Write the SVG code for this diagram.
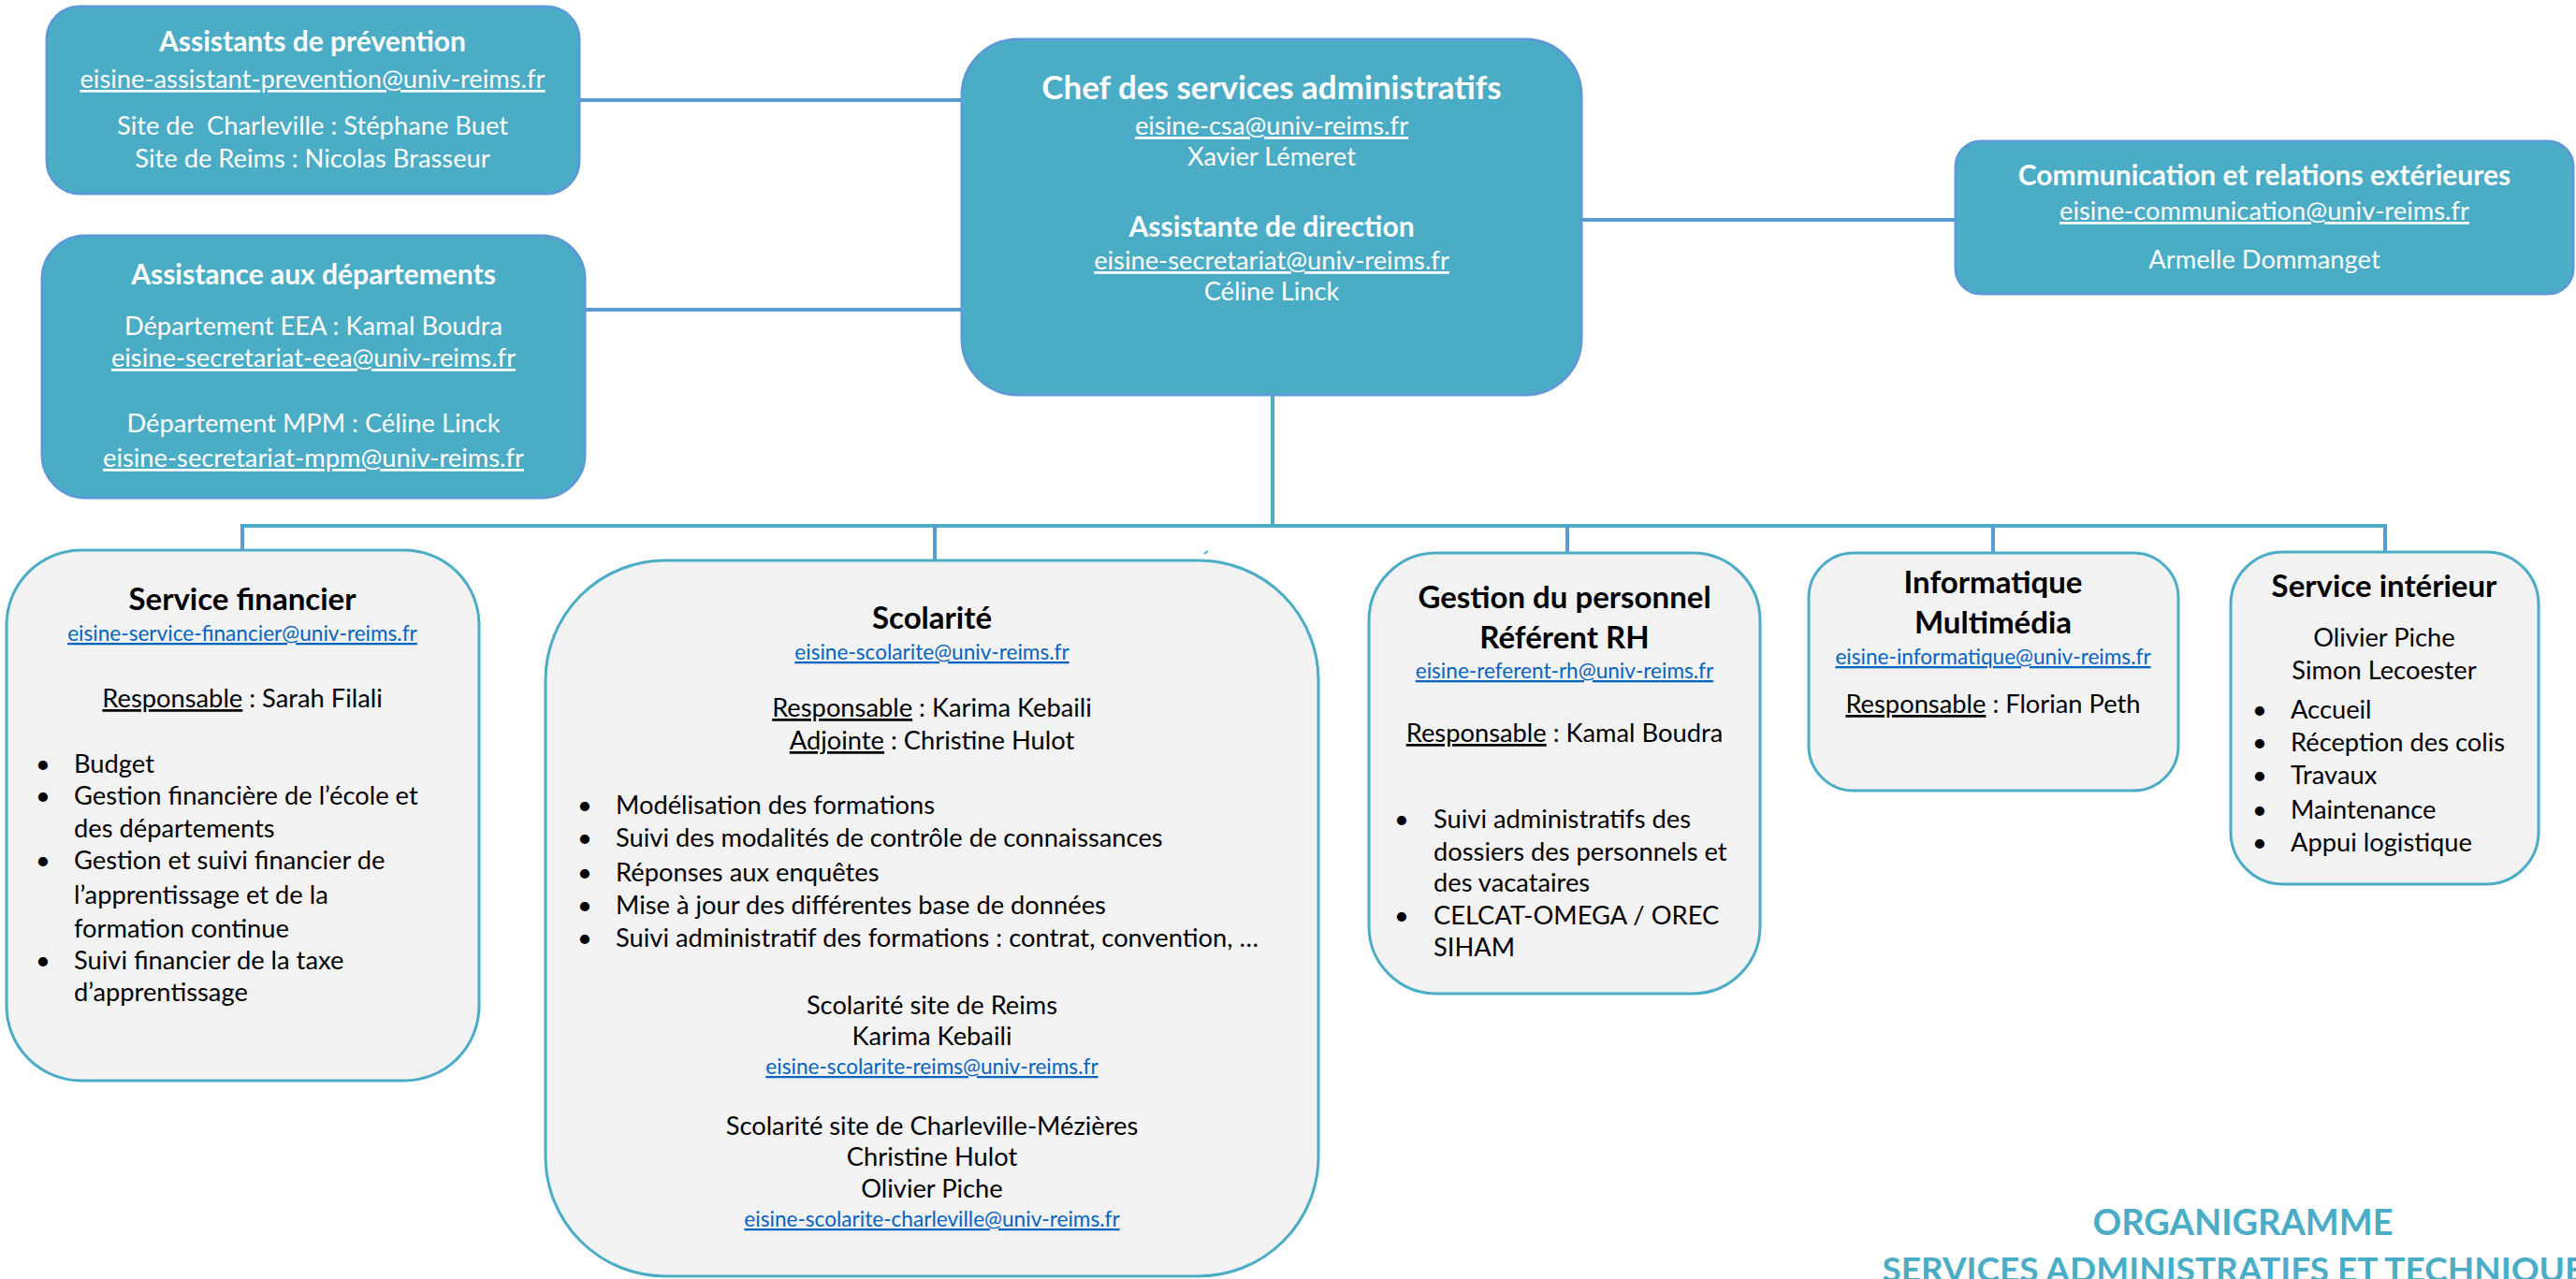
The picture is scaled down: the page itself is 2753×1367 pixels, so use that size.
<svg xmlns="http://www.w3.org/2000/svg" width="2753" height="1367" viewBox="0 0 2753 1367">
<style>
text{font-family:Lato,"Open Sans","Liberation Sans",sans-serif;}
.top rect{fill:#4BACC6;stroke:#5B9BD5;stroke-width:3;}
.top text{fill:#FFFFFF;font-size:27.3px;text-anchor:middle;}
.top .t{font-weight:bold;font-size:30px;}
.top .big{font-weight:bold;font-size:35px;}
.bot rect{fill:#F2F2F2;stroke:#4BACC6;stroke-width:3;}
.bot text{fill:#000000;font-size:27.3px;}
.bot .c{text-anchor:middle;}
.bot .t{font-weight:bold;font-size:33px;text-anchor:middle;}
.bot .m{fill:#0563C1;font-size:22.6px;text-anchor:middle;text-decoration:underline;}
.u{text-decoration:underline;}
.blue{stroke:#5B9BD5;stroke-width:4;fill:none;}
.teal{stroke:#4BACC6;stroke-width:4;fill:none;}
.title{fill:#4BACC6;font-weight:bold;font-size:38px;text-anchor:middle;}
</style>
<rect width="2753" height="1367" fill="#FFFFFF"/>
<g id="connectors">
<line class="blue" x1="619" y1="107" x2="1028" y2="107"/>
<line class="blue" x1="625" y1="331" x2="1028" y2="331"/>
<line class="blue" x1="1690" y1="235" x2="2090" y2="235"/>
<line class="teal" x1="1360" y1="422" x2="1360" y2="562"/>
<line class="teal" x1="257" y1="562" x2="2551" y2="562"/>
<line class="blue" x1="259" y1="562" x2="259" y2="588"/>
<line class="blue" x1="999" y1="562" x2="999" y2="599"/>
<line class="blue" x1="1675" y1="562" x2="1675" y2="591"/>
<line class="blue" x1="2130" y1="562" x2="2130" y2="591"/>
<line class="blue" x1="2549" y1="562" x2="2549" y2="590"/>
<line stroke="#4BACC6" stroke-width="2" x1="1287" y1="592" x2="1291" y2="589"/>
</g>
<g id="assistants-prevention" class="top">
<rect x="50" y="7" width="569" height="200" rx="35"/>
<text class="t" x="334" y="55">Assistants de prévention</text>
<text class="u" x="334" y="94">eisine-assistant-prevention@univ-reims.fr</text>
<text x="334" y="144" xml:space="preserve">Site de  Charleville : Stéphane Buet</text>
<text x="334" y="179">Site de Reims : Nicolas Brasseur</text>
</g>
<g id="assistance-departements" class="top">
<rect x="45" y="252" width="580" height="280" rx="46"/>
<text class="t" x="335" y="304">Assistance aux départements</text>
<text x="335" y="358">Département EEA : Kamal Boudra</text>
<text class="u" x="335" y="392">eisine-secretariat-eea@univ-reims.fr</text>
<text x="335" y="462">Département MPM : Céline Linck</text>
<text class="u" x="335" y="499">eisine-secretariat-mpm@univ-reims.fr</text>
</g>
<g id="chef-services" class="top">
<rect x="1028" y="42" width="662" height="380" rx="60"/>
<text class="big" x="1359" y="106">Chef des services administratifs</text>
<text class="u" x="1359" y="144">eisine-csa@univ-reims.fr</text>
<text x="1359" y="177">Xavier Lémeret</text>
<text class="t" x="1359" y="253">Assistante de direction</text>
<text class="u" x="1359" y="288">eisine-secretariat@univ-reims.fr</text>
<text x="1359" y="321">Céline Linck</text>
</g>
<g id="communication" class="top">
<rect x="2090" y="151" width="660" height="163" rx="27"/>
<text class="t" x="2420" y="198">Communication et relations extérieures</text>
<text class="u" x="2420" y="235">eisine-communication@univ-reims.fr</text>
<text x="2420" y="287">Armelle Dommanget</text>
</g>
<g id="service-financier" class="bot">
<rect x="7" y="588" width="505" height="567" rx="80"/>
<text class="t" x="259" y="652">Service financier</text>
<text class="m" x="259" y="685">eisine-service-financier@univ-reims.fr</text>
<text class="c" x="259" y="756"><tspan class="u">Responsable</tspan> : Sarah Filali</text>
<text x="38" y="826">•</text><text x="79" y="826">Budget</text>
<text x="38" y="860">•</text><text x="79" y="860">Gestion financière de l’école et</text>
<text x="79" y="895">des départements</text>
<text x="38" y="929">•</text><text x="79" y="929">Gestion et suivi financier de</text>
<text x="79" y="966">l’apprentissage et de la</text>
<text x="79" y="1002">formation continue</text>
<text x="38" y="1036">•</text><text x="79" y="1036">Suivi financier de la taxe</text>
<text x="79" y="1070">d’apprentissage</text>
</g>
<g id="scolarite" class="bot">
<rect x="583" y="599" width="826" height="765" rx="128"/>
<text class="t" x="996" y="672">Scolarité</text>
<text class="m" x="996" y="705">eisine-scolarite@univ-reims.fr</text>
<text class="c" x="996" y="766"><tspan class="u">Responsable</tspan> : Karima Kebaili</text>
<text class="c" x="996" y="801"><tspan class="u">Adjointe</tspan> : Christine Hulot</text>
<text x="617" y="870">•</text><text x="658" y="870">Modélisation des formations</text>
<text x="617" y="905">•</text><text x="658" y="905">Suivi des modalités de contrôle de connaissances</text>
<text x="617" y="942">•</text><text x="658" y="942">Réponses aux enquêtes</text>
<text x="617" y="977">•</text><text x="658" y="977">Mise à jour des différentes base de données</text>
<text x="617" y="1012">•</text><text x="658" y="1012">Suivi administratif des formations : contrat, convention, …</text>
<text class="c" x="996" y="1084">Scolarité site de Reims</text>
<text class="c" x="996" y="1117">Karima Kebaili</text>
<text class="m" x="996" y="1148">eisine-scolarite-reims@univ-reims.fr</text>
<text class="c" x="996" y="1213">Scolarité site de Charleville-Mézières</text>
<text class="c" x="996" y="1246">Christine Hulot</text>
<text class="c" x="996" y="1280">Olivier Piche</text>
<text class="m" x="996" y="1311">eisine-scolarite-charleville@univ-reims.fr</text>
</g>
<g id="gestion-personnel" class="bot">
<rect x="1463" y="591" width="418" height="471" rx="72"/>
<text class="t" x="1672" y="650">Gestion du personnel</text>
<text class="t" x="1672" y="693">Référent RH</text>
<text class="m" x="1672" y="725">eisine-referent-rh@univ-reims.fr</text>
<text class="c" x="1672" y="793"><tspan class="u">Responsable</tspan> : Kamal Boudra</text>
<text x="1490" y="885">•</text><text x="1532" y="885">Suivi administratifs des</text>
<text x="1532" y="920">dossiers des personnels et</text>
<text x="1532" y="953">des vacataires</text>
<text x="1490" y="988">•</text><text x="1532" y="988">CELCAT-OMEGA / OREC</text>
<text x="1532" y="1022">SIHAM</text>
</g>
<g id="informatique" class="bot">
<rect x="1933" y="591" width="395" height="254" rx="48"/>
<text class="t" x="2130" y="634">Informatique</text>
<text class="t" x="2130" y="677">Multimédia</text>
<text class="m" x="2130" y="710">eisine-informatique@univ-reims.fr</text>
<text class="c" x="2130" y="762"><tspan class="u">Responsable</tspan> : Florian Peth</text>
</g>
<g id="service-interieur" class="bot">
<rect x="2384" y="590" width="329" height="355" rx="56"/>
<text class="t" x="2548" y="638">Service intérieur</text>
<text class="c" x="2548" y="691">Olivier Piche</text>
<text class="c" x="2548" y="726">Simon Lecoester</text>
<text x="2407" y="768">•</text><text x="2448" y="768">Accueil</text>
<text x="2407" y="803">•</text><text x="2448" y="803">Réception des colis</text>
<text x="2407" y="838">•</text><text x="2448" y="838">Travaux</text>
<text x="2407" y="875">•</text><text x="2448" y="875">Maintenance</text>
<text x="2407" y="910">•</text><text x="2448" y="910">Appui logistique</text>
</g>
<g id="titre">
<text class="title" x="2397" y="1320">ORGANIGRAMME</text>
<text class="title" x="2397" y="1370" style="font-size:37px">SERVICES ADMINISTRATIFS ET TECHNIQUES</text>
</g>
</svg>
